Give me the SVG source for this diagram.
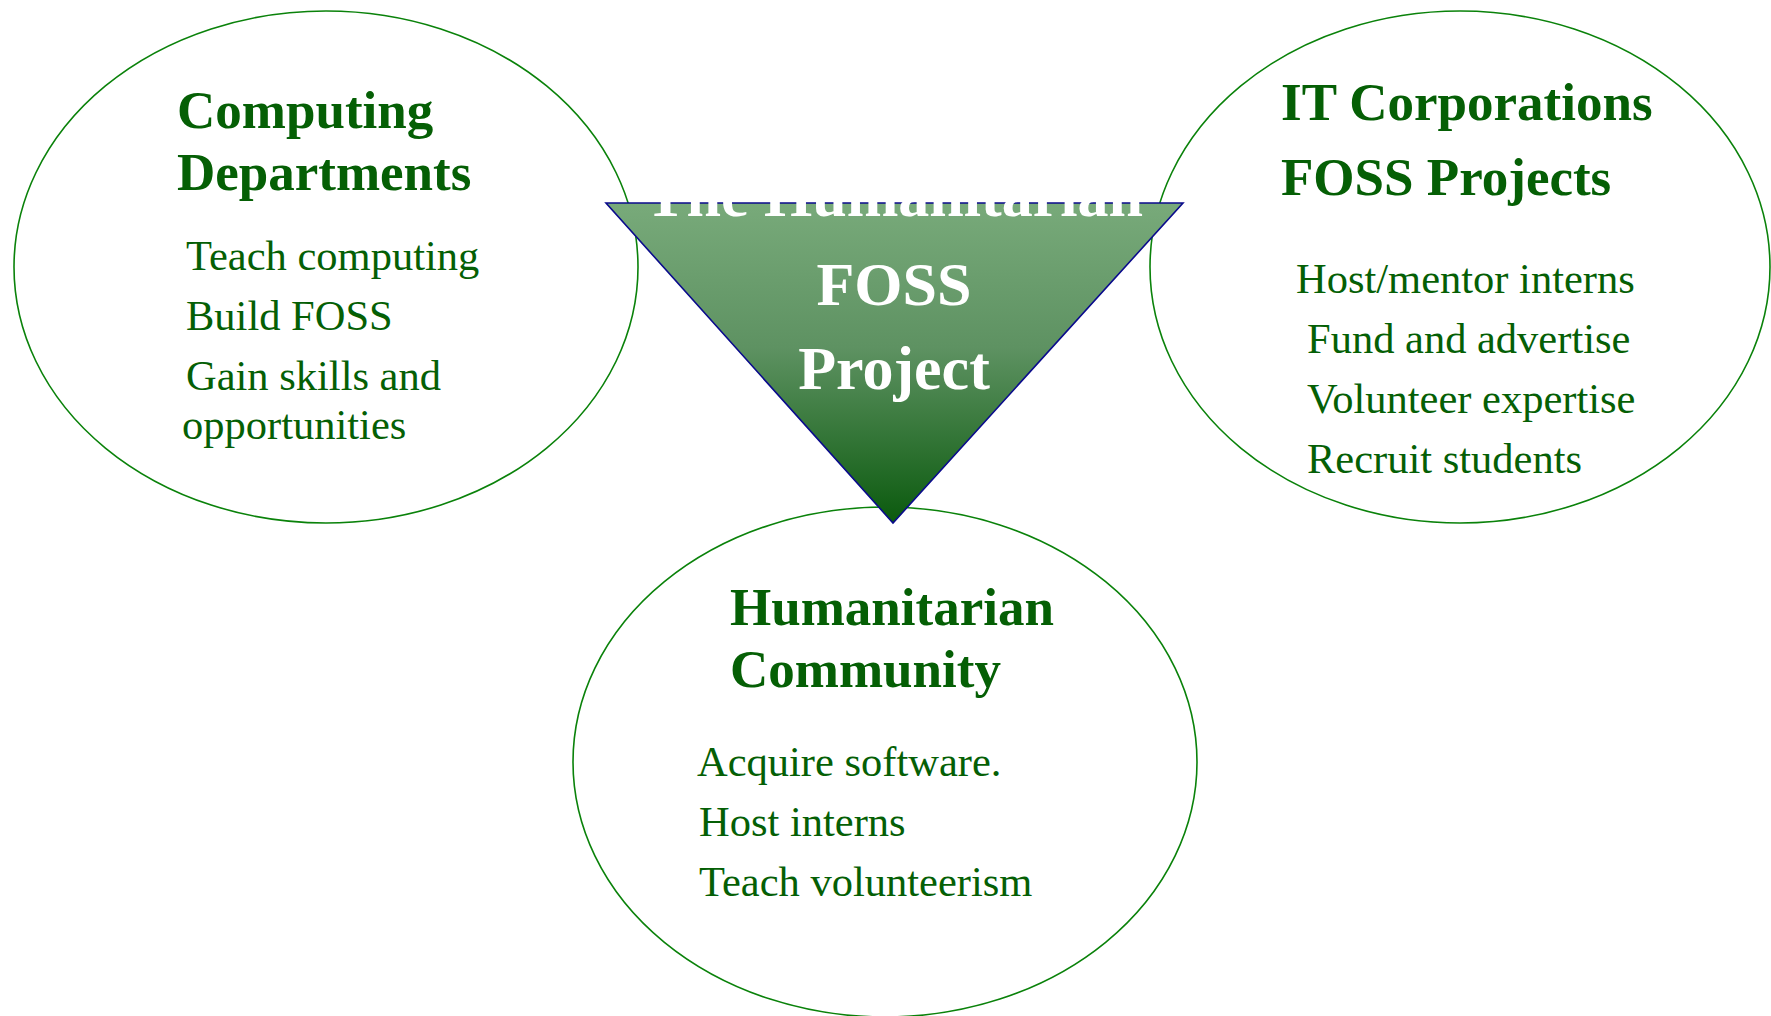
<svg xmlns="http://www.w3.org/2000/svg" width="1771" height="1016" viewBox="0 0 1771 1016">
<style>
.ell{fill:#ffffff;stroke:#0a820a;stroke-width:1.6}
.h{font-family:"Liberation Serif","Times New Roman",serif;font-weight:bold;font-size:53px;fill:#055f05}
.b{font-family:"Liberation Serif","Times New Roman",serif;font-size:42.5px;fill:#055f05}
.t{font-family:"Liberation Serif","Times New Roman",serif;font-weight:bold;font-size:62px;fill:#ffffff;text-anchor:middle}
</style>
<defs>
<linearGradient id="g" x1="0" y1="0" x2="0" y2="1">
<stop offset="0" stop-color="#78aa7a"/>
<stop offset="0.45" stop-color="#5e9262"/>
<stop offset="1" stop-color="#0b5a0e"/>
</linearGradient>
</defs>
<rect width="1771" height="1016" fill="#ffffff"/>
<g id="computing">
<ellipse class="ell" cx="326" cy="267" rx="312" ry="256"/>
<text class="h" x="177" y="128">Computing</text>
<text class="h" x="177" y="190">Departments</text>
<text class="b" x="186" y="270">Teach computing</text>
<text class="b" x="186" y="330">Build FOSS</text>
<text class="b" x="186" y="390">Gain skills and</text>
<text class="b" x="182" y="439">opportunities</text>
</g>
<g id="corporations">
<ellipse class="ell" cx="1460" cy="267" rx="310" ry="256"/>
<text class="h" x="1281" y="120">IT Corporations</text>
<text class="h" x="1281" y="195">FOSS Projects</text>
<text class="b" x="1296" y="293">Host/mentor interns</text>
<text class="b" x="1307" y="353">Fund and advertise</text>
<text class="b" x="1307" y="413">Volunteer expertise</text>
<text class="b" x="1307" y="473">Recruit students</text>
</g>
<g id="community">
<ellipse class="ell" cx="885" cy="762" rx="312" ry="255"/>
<text class="h" x="730" y="625">Humanitarian</text>
<text class="h" x="730" y="687">Community</text>
<text class="b" x="697" y="776">Acquire software.</text>
<text class="b" x="699" y="836">Host interns</text>
<text class="b" x="699" y="896">Teach volunteerism</text>
</g>
<g id="project">
<polygon points="606,203 1183,203 893,523" fill="url(#g)" stroke="#0a0a8c" stroke-width="1.6"/>
<text class="t" x="894" y="216">The Humanitarian</text>
<text class="t" x="894" y="305">FOSS</text>
<text class="t" x="894" y="389">Project</text>
</g>
<g id="connectors"/>
</svg>
